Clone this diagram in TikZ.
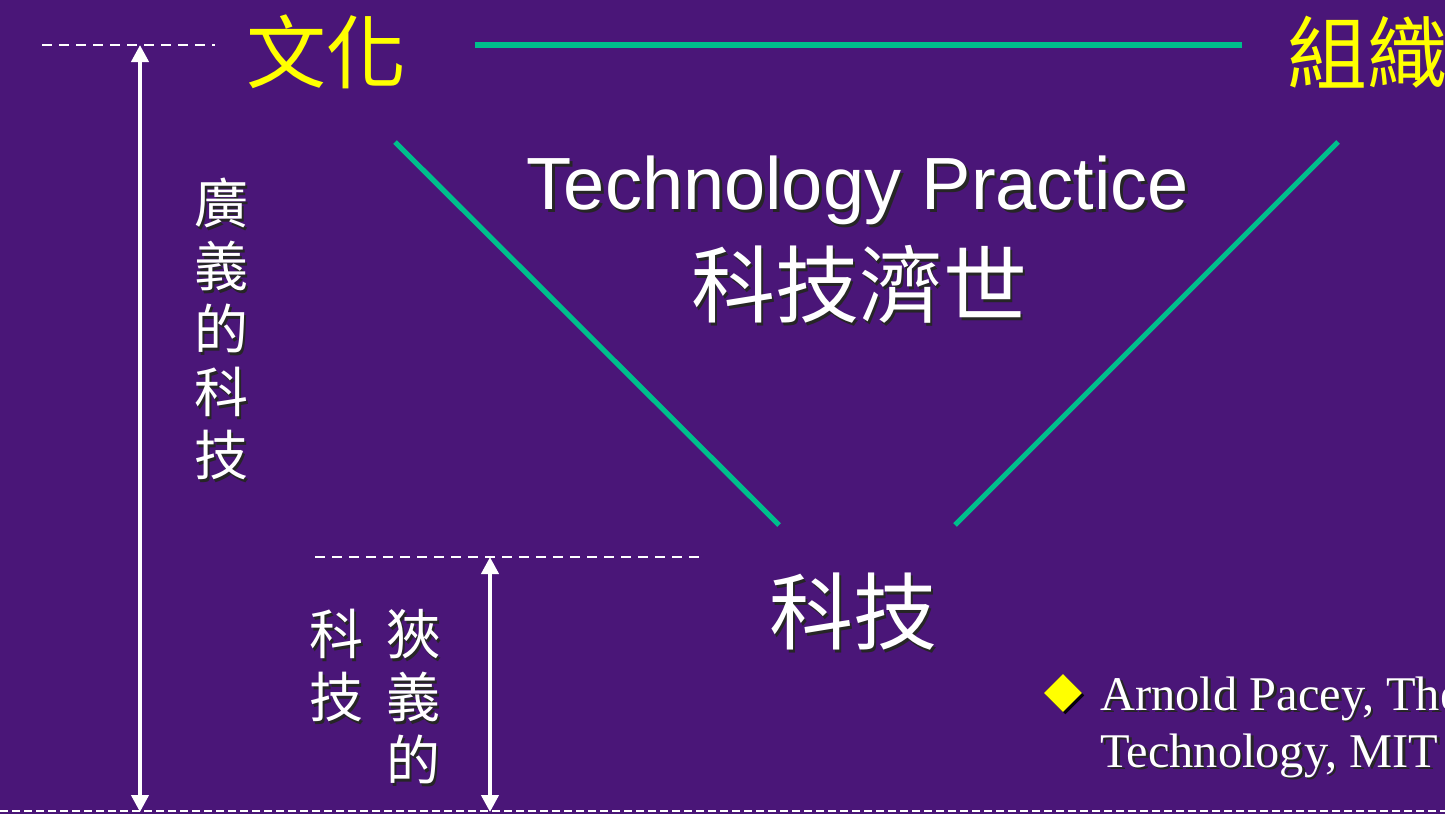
\documentclass[tikz,border=0pt]{standalone}
\usepackage{fontspec}
\setmainfont{Liberation Serif}
\newfontfamily\cjk{Noto Sans CJK TC}
\newfontfamily\arialf{Liberation Sans}
\usetikzlibrary{arrows.meta,shapes.geometric,shadows}
\definecolor{bgpurple}{RGB}{74,22,120}
\definecolor{linegreen}{RGB}{0,190,140}
\definecolor{txtyellow}{RGB}{255,255,0}
\newcommand{\shd}[1]{\makebox[0pt][l]{\kern1.4pt\raisebox{-1.4pt}{\color{black!85}#1}}#1}
\tikzset{
  yellowcjk/.style={text=txtyellow, inner sep=0pt, font=\cjk\fontsize{40}{46}\selectfont},
  whitecjk/.style={text=white, inner sep=0pt, font=\cjk\fontsize{42}{48}\selectfont},
  colcjk/.style={text=white, inner sep=0pt, align=center, font=\cjk\fontsize{27}{31.5}\selectfont},
  greenline/.style={draw=linegreen, line width=2.6pt},
  dashline/.style={draw=white, line width=1pt, dash pattern=on 5pt off 3.5pt},
  bottomdash/.style={draw=white, line width=1pt, dash pattern=on 4pt off 2pt},
  dimarrow/.style={draw=white, line width=2pt, {Triangle[width=8.5pt,length=8.5pt]}-{Triangle[width=8.5pt,length=8.5pt]}},
  reftext/.style={text=white, inner sep=0pt, anchor=base west, font=\fontsize{24.2}{29}\selectfont}
}
\begin{document}
\begin{tikzpicture}[x=0.5pt,y=-0.5pt]
\fill[bgpurple] (0,0) rectangle (1445,814);
\clip (0,0) rectangle (1445,814);

% dashed reference lines
\coordinate (d1a) at (42,45);
\coordinate (d1b) at (215,45);
\coordinate (d2a) at (315,557);
\coordinate (d2b) at (700,557);
\coordinate (d3a) at (0,811);
\coordinate (d3b) at (1445,811);
\draw[dashline] (d1a) -- (d1b);
\draw[dashline] (d2a) -- (d2b);
\draw[bottomdash] (d3a) -- (d3b);

% dimension arrows
\coordinate (a1t) at (140,45);
\coordinate (a1b) at (140,812);
\coordinate (a2t) at (490,557);
\coordinate (a2b) at (490,812);
\draw[dimarrow] (a1t) -- (a1b);
\draw[dimarrow] (a2t) -- (a2b);

% top labels and green line
\node[yellowcjk] (wenhua) at (326,52) {文化};
\node[yellowcjk, anchor=west] (zuzhi) at (1287,52) {組織};
\coordinate (g1) at (475,45);
\coordinate (g2) at (1242,45);
\draw[greenline] (g1) -- (g2);

% V lines
\coordinate (v1) at (395,142);
\coordinate (v2) at (779,525);
\coordinate (v3) at (955,525);
\coordinate (v4) at (1338,142);
\draw[greenline] (v1) -- (v2);
\draw[greenline] (v4) -- (v3);

% central texts
\node[text=white, inner sep=0pt, font=\arialf\fontsize{37}{42}\selectfont] (tp) at (858,192) {\shd{Technology Practice}};
\node[whitecjk] (kjjs) at (859,286) {\shd{科技濟世}};
\node[whitecjk] (kj) at (853,613) {\shd{科技}};

% vertical column texts
\node[colcjk] (guangyi) at (221,330) {\shd{廣}\\\shd{義}\\\shd{的}\\\shd{科}\\\shd{技}};
\node[colcjk] (kjcol) at (336,667) {\shd{科}\\\shd{技}};
\node[colcjk] (xiayi) at (413,698) {\shd{狹}\\\shd{義}\\\shd{的}};

% reference bullet
\node[diamond, fill=txtyellow, minimum width=19pt, minimum height=19pt, inner sep=0pt,
      drop shadow={shadow xshift=1.2pt, shadow yshift=-1.2pt, opacity=0.9, fill=black}] (bullet) at (1063,693) {};
\node[reftext] (ref1) at (1100,710) {\shd{Arnold Pacey, The}};
\node[reftext] (ref2) at (1100,767) {\shd{Technology, MIT}};
\end{tikzpicture}
\end{document}
